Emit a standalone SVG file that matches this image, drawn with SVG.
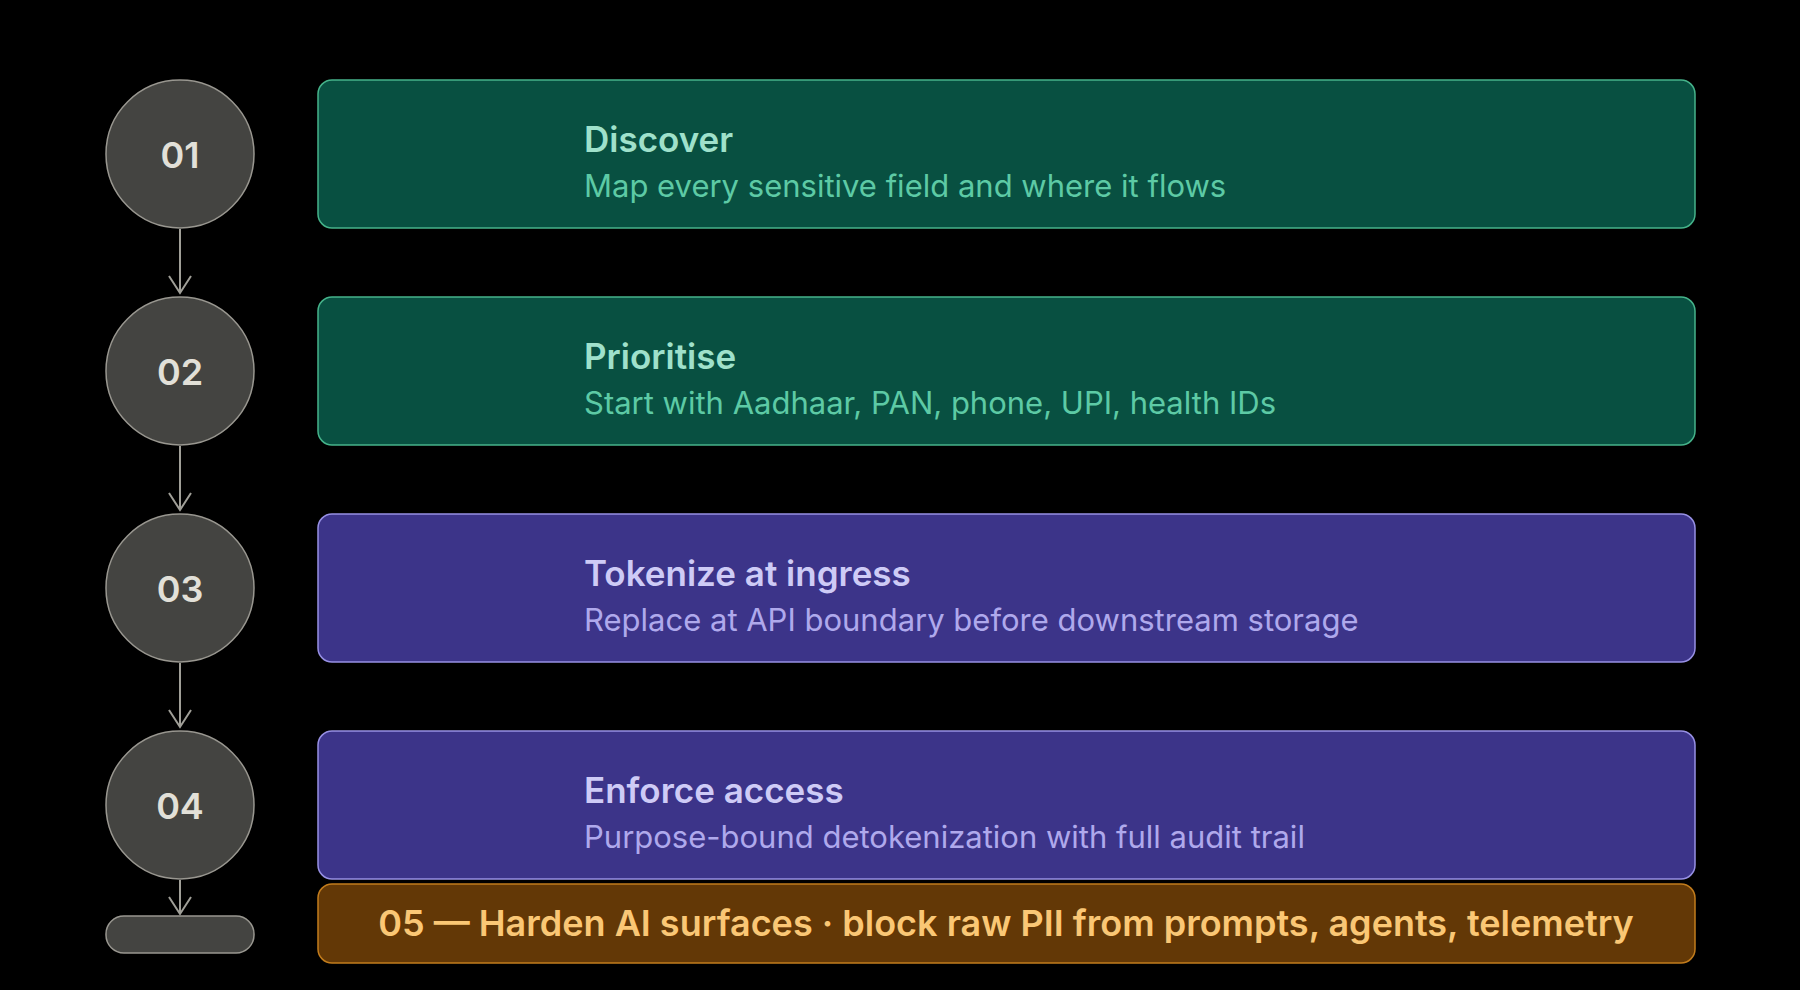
<svg xmlns="http://www.w3.org/2000/svg" width="1800" height="990" viewBox="0 0 1800 990">
<style>
.step{fill:#444441;stroke:#999790;stroke-width:1.5}
.num{font-family:Inter,"Liberation Sans",sans-serif;font-weight:600;font-size:36px;fill:#E2E0D8;text-anchor:middle}
.box{stroke-width:1.5}
.green{fill:#085041;stroke:#45B38A}
.purple{fill:#3C3489;stroke:#9790E4}
.amber{fill:#633806;stroke:#C27C1C}
.title{font-family:Inter,"Liberation Sans",sans-serif;font-weight:600;font-size:35px}
.sub{font-family:Inter,"Liberation Sans",sans-serif;font-weight:400;font-size:31px}
.gt{fill:#9FE1CB}.gs{fill:#5DCAA5}
.pt{fill:#CECBF6}.ps{fill:#AFA9EC}
.foot{font-family:Inter,"Liberation Sans",sans-serif;font-weight:600;font-size:36px;fill:#FAC775;text-anchor:middle}
.conn{stroke:#A09F98;stroke-width:2;fill:none}
</style>
<defs>
<marker id="chev" viewBox="0 0 20 24" refX="18" refY="12" markerWidth="20" markerHeight="24" markerUnits="userSpaceOnUse" orient="auto">
<path d="M1,1 L18,12 L1,23" fill="none" stroke="#A09F98" stroke-width="2"/>
</marker>
</defs>
<rect width="1800" height="990" fill="#000"/>
<g id="connectors">
<line class="conn" x1="180" y1="229" x2="180" y2="293" marker-end="url(#chev)"/>
<line class="conn" x1="180" y1="446" x2="180" y2="510" marker-end="url(#chev)"/>
<line class="conn" x1="180" y1="663" x2="180" y2="727" marker-end="url(#chev)"/>
<line class="conn" x1="180" y1="880" x2="180" y2="914" marker-end="url(#chev)"/>
</g>
<g id="step01">
<circle class="step" cx="180" cy="154" r="74"/>
<text class="num" x="180" y="168">01</text>
</g>
<g id="box01">
<rect class="box green" x="318" y="80" width="1377" height="148" rx="14"/>
<text class="title gt" x="584" y="152">Discover</text>
<text class="sub gs" x="584" y="197">Map every sensitive field and where it flows</text>
</g>
<g id="step02">
<circle class="step" cx="180" cy="371" r="74"/>
<text class="num" x="180" y="385">02</text>
</g>
<g id="box02">
<rect class="box green" x="318" y="297" width="1377" height="148" rx="14"/>
<text class="title gt" x="584" y="369">Prioritise</text>
<text class="sub gs" x="584" y="414">Start with Aadhaar, PAN, phone, UPI, health IDs</text>
</g>
<g id="step03">
<circle class="step" cx="180" cy="588" r="74"/>
<text class="num" x="180" y="602">03</text>
</g>
<g id="box03">
<rect class="box purple" x="318" y="514" width="1377" height="148" rx="14"/>
<text class="title pt" x="584" y="586">Tokenize at ingress</text>
<text class="sub ps" x="584" y="631">Replace at API boundary before downstream storage</text>
</g>
<g id="step04">
<circle class="step" cx="180" cy="805" r="74"/>
<text class="num" x="180" y="819">04</text>
</g>
<g id="box04">
<rect class="box purple" x="318" y="731" width="1377" height="148" rx="14"/>
<text class="title pt" x="584" y="803">Enforce access</text>
<text class="sub ps" x="584" y="848">Purpose-bound detokenization with full audit trail</text>
</g>
<g id="end">
<rect class="step" x="106" y="916" width="148" height="37" rx="18"/>
</g>
<g id="box05">
<rect class="box amber" x="318" y="884" width="1377" height="79" rx="14"/>
<text class="foot" x="1006" y="936">05 — Harden AI surfaces · block raw PII from prompts, agents, telemetry</text>
</g>
</svg>
